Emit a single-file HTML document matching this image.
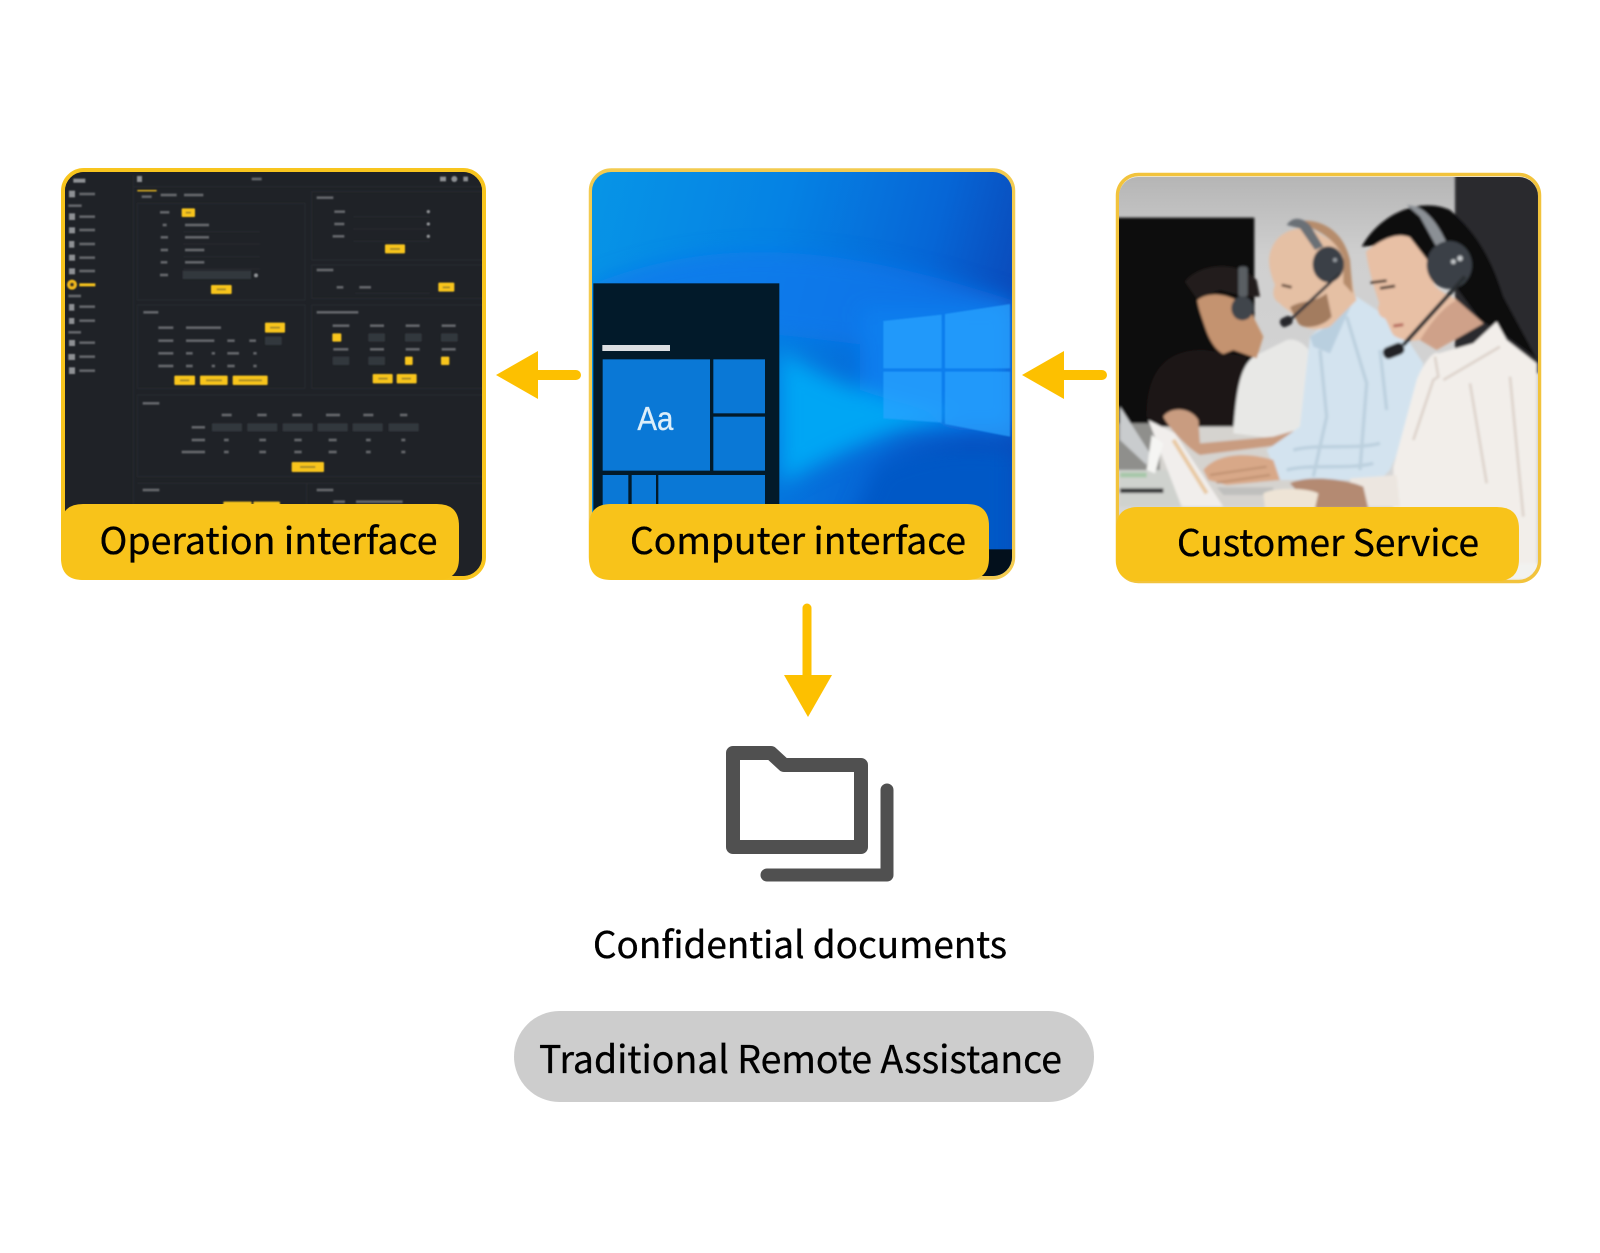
<!DOCTYPE html>
<html lang="en"><head><meta charset="utf-8"><title>Traditional Remote Assistance</title>
<style>html,body{margin:0;padding:0;background:#fff}svg{display:block}
text{font-family:"Noto Sans CJK SC","Liberation Sans",sans-serif;fill:#000;stroke:#000;stroke-width:.35px}</style></head>
<body>
<svg xmlns="http://www.w3.org/2000/svg" width="1600" height="1253" viewBox="0 0 1600 1253">
<defs>
<filter id="b1" x="-5%" y="-5%" width="110%" height="110%"><feGaussianBlur stdDeviation="2.2"/></filter>
<filter id="b3" x="-10%" y="-10%" width="120%" height="120%"><feGaussianBlur stdDeviation="30"/></filter>
<filter id="b4" x="-5%" y="-5%" width="110%" height="110%"><feGaussianBlur stdDeviation="4"/></filter>
<filter id="b5" x="-10%" y="-10%" width="120%" height="120%"><feGaussianBlur stdDeviation="2"/></filter>
<clipPath id="c1"><rect x="65" y="172" width="417" height="404" rx="19"/></clipPath>
<clipPath id="c2"><rect x="592" y="172" width="420" height="404" rx="19"/></clipPath>
<clipPath id="c3"><rect x="1119" y="177" width="419" height="402" rx="19"/></clipPath>
<linearGradient id="wall" x1="0" y1="0" x2="0" y2="1"><stop offset="0" stop-color="#b4b4b4"/><stop offset=".2" stop-color="#cfcfcf"/><stop offset="1" stop-color="#d8d8d8"/></linearGradient>
<linearGradient id="win" x1="0" y1="0" x2="1" y2=".25"><stop offset="0" stop-color="#0795e6"/><stop offset=".45" stop-color="#0582e4"/><stop offset=".8" stop-color="#0666d6"/><stop offset="1" stop-color="#0a4cbc"/></linearGradient>
</defs>

<!-- Card 1 -->
<rect x="63" y="170" width="421" height="408" rx="21" fill="#1f2227" stroke="#f8c51e" stroke-width="4"/>
<g clip-path="url(#c1)"><g transform="translate(40 150) scale(.33333)">
<rect x="60" y="50" width="1290" height="1250" fill="#1f2227"/>
<g filter="url(#b1)">
<g fill="none" stroke="#2c2f34" stroke-width="2">
<path d="M280 75V1070M282 110H1330"/>
<rect x="292" y="160" width="503" height="290"/><rect x="815" y="125" width="520" height="205"/><rect x="815" y="345" width="520" height="100"/>
<rect x="292" y="465" width="503" height="250"/><rect x="815" y="465" width="520" height="250"/><rect x="292" y="735" width="1040" height="245"/><path d="M292 1000H1330M800 1000V1070"/>
<path d="M430 245H660M430 282H660M430 320H660M430 357H660M940 200H1170M940 237H1170M940 274H1170M945 430H1170"/>
</g>
<g fill="none" stroke="#63666a" stroke-width="8">
<path d="M118 132h47M85 167h40M118 200h47M118 240h47M118 282h47M118 323h47M118 363h47M85 438h38M118 470h47M118 512h47M85 547h38M118 578h47M118 620h47M118 662h47"/>
<path d="M635 87h30M305 140h30M362 135h48M432 135h58"/>
<path d="M360 187h28M368 225h12M362 262h22M362 300h22M362 337h20M360 375h24M435 225h72M435 262h72M435 300h58M435 337h58M432 375h95"/>
<path d="M830 143h50M883 185h32M883 222h30M878 259h35M830 360h50M890 412h20M958 412h35"/>
<path d="M310 487h45M355 533h45M355 572h45M355 610h45M355 648h45M438 533h105M438 572h85M438 610h20M515 610h10M438 648h20M515 648h10M562 572h22M628 572h20M562 610h35M640 610h10M562 648h22M640 648h10M705 572h15"/>
<path d="M830 487h125M878 527h50M990 527h42M1097 527h42M1205 527h42M880 598h45M990 598h42M1097 598h42M1205 598h42"/>
<path d="M308 760h50M545 795h30M652 795h28M757 795h28M858 795h42M970 795h30M1080 795h22M455 832h40M455 870h40M425 906h70"/>
<path d="M552 870h14M658 870h20M763 870h22M866 870h24M978 870h14M1084 870h12M552 906h14M658 906h20M763 906h22M866 906h24M978 906h14M1084 906h12"/>
<path d="M308 1020h50M830 1020h50M880 1055h35M948 1055h140"/>
</g>
<g fill="#33373c"><rect x="516" y="820" width="90" height="24" rx="2"/><rect x="622" y="820" width="90" height="24" rx="2"/><rect x="728" y="820" width="90" height="24" rx="2"/><rect x="833" y="820" width="90" height="24" rx="2"/><rect x="938" y="820" width="90" height="24" rx="2"/><rect x="1046" y="820" width="90" height="24" rx="2"/><rect x="428" y="362" width="205" height="25"/><rect x="985" y="550" width="50" height="25" rx="3"/><rect x="1095" y="550" width="50" height="25" rx="3"/><rect x="1203" y="550" width="50" height="25" rx="3"/><rect x="878" y="620" width="50" height="25" rx="3"/><rect x="985" y="620" width="50" height="25" rx="3"/><rect x="675" y="560" width="50" height="25" rx="3"/></g>
<g fill="#8e9194"><rect x="87" y="122" width="18" height="20"/><rect x="87" y="190" width="18" height="20"/><rect x="87" y="232" width="18" height="18"/><rect x="87" y="273" width="16" height="20"/><rect x="87" y="314" width="18" height="18"/><rect x="87" y="355" width="18" height="18"/><rect x="87" y="462" width="16" height="20"/><rect x="87" y="504" width="16" height="18"/><rect x="87" y="570" width="18" height="18"/><rect x="85" y="612" width="20" height="18"/><rect x="87" y="652" width="18" height="20"/><rect x="291" y="78" width="15" height="18"/><rect x="1200" y="80" width="18" height="14"/><circle cx="1243" cy="87" r="9"/><rect x="1270" y="80" width="14" height="14"/><circle cx="1165" cy="185" r="5"/><circle cx="1165" cy="222" r="5"/><circle cx="1165" cy="259" r="5"/><circle cx="648" cy="376" r="6"/><rect x="100" y="86" width="36" height="12"/></g>
<circle cx="96" cy="404" r="15" fill="#f2b91a"/><circle cx="96" cy="404" r="6" fill="#3a3520"/>
<g fill="#f8c51e"><rect x="292" y="120" width="58" height="4"/><rect x="118" y="400" width="48" height="9"/>
<rect x="425" y="175" width="40" height="26" rx="3"/><rect x="513" y="405" width="62" height="27" rx="3"/><rect x="1035" y="283" width="60" height="27" rx="3"/><rect x="1195" y="398" width="48" height="27" rx="3"/><rect x="675" y="518" width="60" height="30" rx="3"/><rect x="403" y="677" width="62" height="28" rx="3"/><rect x="480" y="677" width="83" height="28" rx="3"/><rect x="578" y="677" width="105" height="28" rx="3"/><rect x="877" y="550" width="27" height="25" rx="3"/><rect x="1095" y="620" width="23" height="25" rx="3"/><rect x="1203" y="620" width="25" height="25" rx="3"/><rect x="998" y="672" width="60" height="28" rx="3"/><rect x="1070" y="672" width="60" height="28" rx="3"/><rect x="755" y="936" width="97" height="30" rx="3"/><rect x="550" y="1055" width="85" height="14" rx="3"/><rect x="640" y="1055" width="80" height="14" rx="3"/></g>
<g fill="none" stroke="#a98d25" stroke-width="6"><path d="M437 188h16M530 418h28M1050 297h30M1208 412h22M690 533h30M420 691h28M498 691h48M596 691h70M1015 686h28M1085 686h28M780 951h46"/></g>
</g></g></g>
<path d="M61 526q0-22 22-22H437q22 0 22 22v32q0 22-22 22H83q-22 0-22-22z" fill="#f8c31a"/>
<text x="99.500" y="554" font-size="37" textLength="338" lengthAdjust="spacingAndGlyphs">Operation interface</text>

<!-- Card 2 -->
<rect x="590.500" y="170" width="423" height="408" rx="21" fill="#f0c95a" stroke="#f3cb50" stroke-width="3.500"/>
<g clip-path="url(#c2)"><g transform="translate(560 150) scale(.33333)">
<rect x="90" y="60" width="1275" height="1230" fill="url(#win)"/>
<g filter="url(#b3)">
<path d="M100 400C500 240 900 300 1360 450V640L700 560 100 500Z" fill="#0a78ec" opacity=".75"/>
<rect x="900" y="470" width="460" height="370" fill="#0a7eee"/>
<path d="M660 600C800 700 1000 760 1200 800 1000 830 850 900 660 1000Z" fill="#00a6f4"/>
<path d="M950 950C1100 880 1250 880 1360 900V1290H800Z" fill="#0558c6"/>
</g>
<g fill="#2aa4ff" opacity=".72" filter="url(#b5)"><path d="M970 513 1145 494V655H970Z"/><path d="M1155 492 1350 462V655H1155Z"/><path d="M970 665H1145V818L970 805Z"/><path d="M1155 665H1350V860L1155 822Z"/></g>
<rect x="100" y="400" width="558" height="720" fill="#021a2a"/>
<rect x="127" y="585" width="203" height="18" fill="#dcdfe2"/>
<g fill="#0a78d6"><rect x="128" y="628" width="322" height="334"/><rect x="460" y="628" width="155" height="162"/><rect x="460" y="800" width="155" height="162"/><rect x="128" y="975" width="77" height="100"/><rect x="215" y="975" width="73" height="100"/><rect x="295" y="975" width="320" height="100"/></g>
<text x="232" y="840" font-size="100" style="fill:#dceefa;stroke:#dceefa;stroke-width:1px;font-family:'Liberation Sans',sans-serif" textLength="108" lengthAdjust="spacingAndGlyphs">Aa</text>
<rect x="1100" y="1198" width="270" height="90" fill="#03101c"/>
</g></g>
<path d="M589 526q0-22 22-22H967q22 0 22 22v32q0 22-22 22H611q-22 0-22-22z" fill="#f8c31a"/>
<text x="630" y="554" font-size="37" textLength="336" lengthAdjust="spacingAndGlyphs">Computer interface</text>

<!-- Card 3 -->
<rect x="1117.500" y="174.500" width="422" height="407" rx="21" fill="#efefef" stroke="#f2c33c" stroke-width="3.500"/>
<g clip-path="url(#c3)"><g transform="translate(1060 150) scale(.33333)">
<rect x="170" y="70" width="1270" height="1230" fill="url(#wall)"/>
<g filter="url(#b4)">
<rect x="1185" y="70" width="255" height="600" fill="#2b2b2d"/>
<rect x="170" y="203" width="413" height="620" fill="#110e0e"/>
<path d="M583 820H170V1070H900V820Z" fill="#d5d3cf"/>
<path d="M170 820H300V960H170Z" fill="#8f8f8c"/>
<!-- back person -->
<path d="M260 800C260 650 330 600 430 600L560 620 520 830H300Z" fill="#1f1918"/>
<path d="M520 850C530 700 545 630 600 610L680 570C720 560 770 600 780 700L740 880 600 860Z" fill="#e8e8e6"/>
<path d="M412 450C450 420 530 430 575 490L610 560 590 625 520 600 490 612C465 600 450 570 440 545 425 500 415 475 412 450Z" fill="#c4936f"/>
<path d="M375 395C420 340 530 330 590 390L600 440 560 440 480 420 410 445Z" fill="#241d1a"/>
<rect x="535" y="350" width="28" height="90" rx="8" fill="#5a5f64"/>
<ellipse cx="547" cy="475" rx="33" ry="36" fill="#3f454b"/>
<path d="M310 800C330 770 390 770 415 810L420 880 640 860 710 840 700 880 420 915C390 900 330 840 310 800Z" fill="#c99c80"/>
<!-- middle person -->
<path d="M750 560 890 440 1010 520 1090 640 1060 800 990 960 960 990 660 990 620 900 720 830Z" fill="#d3e3ef"/>
<path d="M750 560 800 530 880 450 810 610 760 590Z" fill="#b9cfdf"/>
<path d="M860 500 920 700 900 960M780 600 800 800 760 980M960 600 980 780M700 900C780 880 880 900 960 880M680 960C760 940 860 960 940 940" stroke="#bcd0de" stroke-width="10" fill="none"/>
<path d="M628 320C640 250 700 225 760 240L860 300C875 350 875 420 890 450L810 530C770 545 720 540 705 500 690 480 665 470 660 460 640 450 635 430 645 405 630 370 625 340 628 320Z" fill="#e5c0a4"/>
<path d="M700 215C780 200 850 240 870 330L878 430 850 400 850 320C820 260 760 230 700 215Z" fill="#b68c6c"/>
<path d="M690 472C720 450 760 460 800 430L815 500C790 532 730 540 715 520Z" fill="#a37c5e"/>
<path d="M665 405 695 412" stroke="#5a4030" stroke-width="8"/>
<path d="M680 225C700 195 730 205 750 225L790 290 765 300 720 235Z" fill="#6a7076"/>
<ellipse cx="805" cy="343" rx="47" ry="54" fill="#3a4147"/>
<circle cx="825" cy="330" r="6" fill="#9a9fa4"/>
<path d="M840 370 685 515" stroke="#30353a" stroke-width="9" fill="none"/>
<rect x="660" y="500" width="38" height="28" rx="12" fill="#25282b" transform="rotate(-25 680 515)"/>
<path d="M430 960C470 910 560 905 640 930L660 990 500 1005 445 990Z" fill="#d8a888"/>
<path d="M450 975 620 950M470 998 630 975" stroke="#b98a6a" stroke-width="5"/>
<!-- woman -->
<path d="M905 290C960 190 1080 140 1170 180 1240 240 1290 310 1330 440L1430 625 1340 560 1260 510 1180 400 1040 280Z" fill="#0f0e10"/>
<path d="M918 305C960 270 1010 245 1050 262L1110 340 1120 400C1140 430 1180 440 1190 450L1270 520 1130 600 1080 570C1050 575 1020 570 1000 555 990 540 985 520 975 505 955 500 950 480 958 460 945 420 925 360 918 305Z" fill="#e8c0a5"/>
<path d="M1080 570C1110 520 1150 470 1190 450L1270 520 1130 600Z" fill="#cfa189"/>
<path d="M932 398 980 392M960 415 1005 408" stroke="#3b2a24" stroke-width="8"/>
<path d="M1000 528 1030 524" stroke="#b5665a" stroke-width="9"/>
<path d="M1040 165C1090 165 1130 210 1165 290L1135 300 1080 200Z" fill="#8b9095"/>
<ellipse cx="1168" cy="345" rx="68" ry="72" fill="#3a4046"/>
<circle cx="1200" cy="325" r="8" fill="#c8cbce"/><circle cx="1180" cy="335" r="7" fill="#c8cbce"/>
<path d="M1215 380 1030 585" stroke="#2a2d30" stroke-width="12" fill="none"/>
<rect x="968" y="585" width="66" height="36" rx="16" fill="#202225" transform="rotate(-22 1000 603)"/>
<path d="M1070 690C1090 640 1120 600 1135 610L1240 580 1310 515 1340 570 1430 640V1250H1000L1000 950Z" fill="#f2eeea"/>
<path d="M1125 620 1135 680 1120 690 1060 870M1150 690 1320 590M1230 700 1280 1000M1350 680 1390 1100" stroke="#dcd2ca" stroke-width="8" fill="none"/>
<path d="M870 985 1010 975 1020 1070H880Z" fill="#ece6e0"/>
<path d="M690 1000C740 975 850 985 910 1010L925 1075H760Z" fill="#b48a72"/>
<!-- desk / laptops -->
<path d="M180 770 270 910 260 945 180 870Z" fill="#c9ccce"/>
<path d="M180 960H380L370 1070H180Z" fill="#cfd2ce"/>
<path d="M180 975H260" stroke="#a6c8a8" stroke-width="14"/>
<path d="M180 1022H310" stroke="#2c2c2e" stroke-width="14"/>
<path d="M265 810 345 850 490 1070 365 1070Z" fill="#f1eeec"/>
<path d="M340 870 440 1030" stroke="#e8c8a0" stroke-width="12" fill="none"/>
<path d="M275 855 310 880 285 970 260 960Z" fill="#f5f5f3"/>
<path d="M470 1012H640V1035H490Z" fill="#bfbfbd"/>
<path d="M610 1030C640 1012 740 1012 775 1030L765 1075H615Z" fill="#eee4d6"/>
<rect x="1340" y="1240" width="95" height="50" fill="#f2f2f0"/>
</g></g></g>
<path d="M1116 529q0-22 22-22H1497q22 0 22 22v30q0 22-22 22H1138q-22 0-22-22z" fill="#f8c31a"/>
<text x="1177" y="556" font-size="37" textLength="302" lengthAdjust="spacingAndGlyphs">Customer Service</text>

<!-- Arrows -->
<g fill="#fdc000" stroke="#fdc000">
<path d="M538 375H576" stroke-width="10" stroke-linecap="round"/>
<path d="M496 375 538 351V399Z" stroke="none"/>
<path d="M1064 375H1102" stroke-width="10" stroke-linecap="round"/>
<path d="M1022 375 1064 351V399Z" stroke="none"/>
<path d="M807 608V680" stroke-width="9" stroke-linecap="round"/>
<path d="M784 675H832L808 717Z" stroke="none"/>
</g>

<!-- Folder icon -->
<g fill="none" stroke="#505050" stroke-width="14" stroke-linejoin="round">
<path d="M733 753H771L784 765H861V847H733Z"/>
<path d="M887 790V875H767" stroke-width="13" stroke-linecap="round" stroke-linejoin="round"/>
</g>

<text x="593" y="958" font-size="37" textLength="414" lengthAdjust="spacingAndGlyphs">Confidential documents</text>
<rect x="514" y="1011" width="580" height="91" rx="45.500" fill="#cdcdcd"/>
<text x="539" y="1073" font-size="38" textLength="523" lengthAdjust="spacingAndGlyphs">Traditional Remote Assistance</text>
</svg>
</body></html>
